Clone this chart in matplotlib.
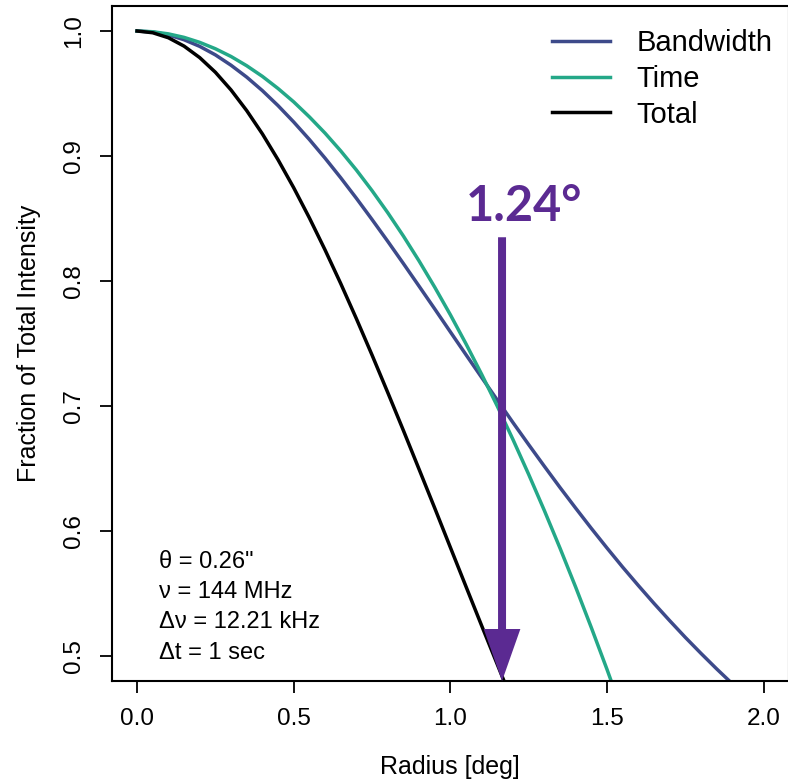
import numpy as np
import matplotlib
matplotlib.use("Agg")
from matplotlib import pyplot as plt

# values (step 0.05 deg)
radius = [0.00, 0.05, 0.10, 0.15, 0.20, 0.25, 0.30, 0.35, 0.40, 0.45, 0.50,
          0.55, 0.60, 0.65, 0.70, 0.75, 0.80, 0.85, 0.90, 0.95, 1.00,
          1.05, 1.10, 1.15, 1.20, 1.25, 1.30, 1.35, 1.40, 1.45, 1.50,
          1.55, 1.60, 1.65, 1.70, 1.75, 1.80, 1.85, 1.90, 1.95, 2.00]
bandwidth = [1.0000, 0.9992, 0.9969, 0.9930, 0.9877, 0.9809, 0.9726, 0.9631, 0.9523, 0.9403, 0.9272,
             0.9132, 0.8983, 0.8826, 0.8662, 0.8492, 0.8318, 0.8140, 0.7959, 0.7777, 0.7593,
             0.7410, 0.7228, 0.7047, 0.6867, 0.6691, 0.6518, 0.6348, 0.6183, 0.6021, 0.5864,
             0.5711, 0.5564, 0.5421, 0.5283, 0.5149, 0.5021, 0.4897, 0.4778, 0.4664, 0.4554]

time_smear = [1.0000, 0.9994, 0.9977, 0.9949, 0.9909, 0.9858, 0.9796, 0.9722, 0.9637, 0.9540, 0.9433,
              0.9313, 0.9183, 0.9041, 0.8888, 0.8723, 0.8547, 0.8360, 0.8161, 0.7951, 0.7730,
              0.7497, 0.7253, 0.6998, 0.6731, 0.6453, 0.6164, 0.5863, 0.5551, 0.5227, 0.4893,
              0.4546, 0.4189]

total = [1.0000, 0.9986, 0.9946, 0.9879, 0.9787, 0.9670, 0.9528, 0.9363, 0.9177, 0.8970, 0.8746,
         0.8505, 0.8249, 0.7980, 0.7699, 0.7408, 0.7109, 0.6805, 0.6495, 0.6184, 0.5869,
         0.5555, 0.5242, 0.4932, 0.4622, 0.4318]

series_labels = ["Bandwidth", "Time", "Total"]
series_colors = ["#3D4A8A", "#24A888", "#000000"]

params = ['\u03b8 = 0.26"', "\u03bd = 144 MHz", "\u0394\u03bd = 12.21 kHz", "\u0394t = 1 sec"]

arrow_x = 1.165
arrow_top = 0.835
arrow_tip = 0.48
arrow_label = "1.24\u00b0"
purple = "#5B2A92"

plt.rcParams['font.family'] = ['Liberation Sans', 'DejaVu Sans']

W, H = 788, 779
fig = plt.figure(figsize=(W / 100, H / 100), dpi=100)
# axes box in pixels: left 112, right 788.7, top 6, bottom 681
ax = fig.add_axes([112 / W, (H - 681) / H, 676.7 / W, 675 / H])

ax.plot(radius, bandwidth, color=series_colors[0], lw=2.5, label=series_labels[0])
ax.plot(radius[:len(time_smear)], time_smear, color=series_colors[1], lw=2.5, label=series_labels[1])
ax.plot(radius[:len(total)], total, color=series_colors[2], lw=2.5, label=series_labels[2])

ax.set_xlim(-0.08, 2.08)
ax.set_ylim(0.48, 1.02)
ax.set_xticks([0.0, 0.5, 1.0, 1.5, 2.0])
ax.set_yticks([0.5, 0.6, 0.7, 0.8, 0.9, 1.0])
ax.set_xticklabels(["0.0", "0.5", "1.0", "1.5", "2.0"])
ax.set_yticklabels(["0.5", "0.6", "0.7", "0.8", "0.9", "1.0"], rotation=90, va="center")
ax.tick_params(length=8.6, width=1.3, labelsize=17.5, pad=11)
for s in ax.spines.values():
    s.set_linewidth(1.5)

ax.set_xlabel("Radius [deg]", fontsize=18, va="center")
ax.set_ylabel("Fraction of Total Intensity", fontsize=18, va="center")
ax.xaxis.set_label_coords(0.5, (681 - 767) / 675)
ax.yaxis.set_label_coords((29 - 112) / 676.7, 0.5)

# arrow and label
ax.arrow(arrow_x, arrow_top, 0, arrow_tip - arrow_top, width=0.0255, head_width=0.117,
         head_length=0.0416, length_includes_head=True, color=purple, lw=0, zorder=5)
ax.text(1.234, 0.848, arrow_label, color=purple, fontsize=35, fontweight="bold",
        family=["Lato", "DejaVu Sans"], ha="center", va="baseline")

# parameter text
for i, t in enumerate(params):
    ax.text(0.069, 0.5754 - i * 0.0243, t, fontsize=17, ha="left", va="center")

leg = ax.legend(loc="upper left", bbox_to_anchor=(0.650, 0.966), frameon=False,
                fontsize=21, handlelength=2.0, handletextpad=0.9, labelspacing=0.27,
                borderpad=0, borderaxespad=0)
for l in leg.get_lines():
    l.set_linewidth(2.5)

fig.savefig("out.png", dpi=100)
